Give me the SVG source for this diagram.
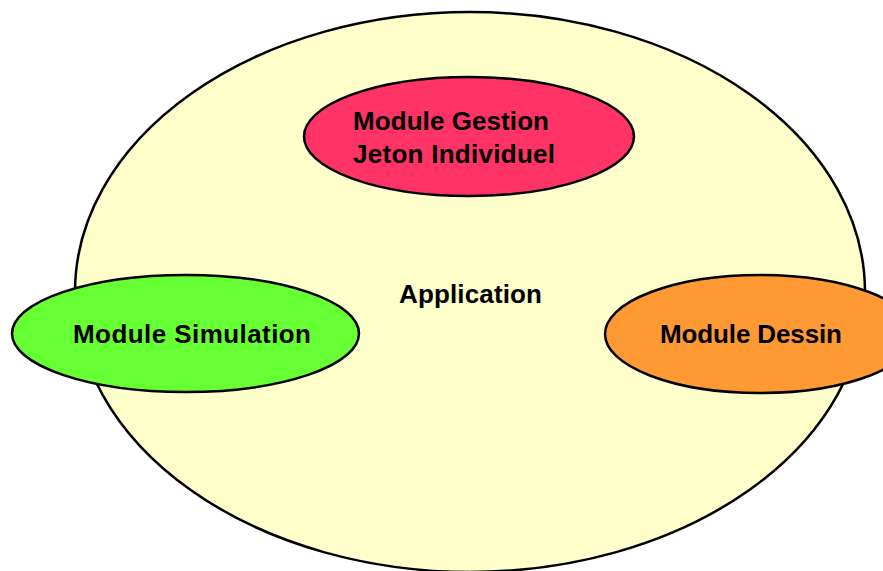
<svg xmlns="http://www.w3.org/2000/svg" width="883" height="571" viewBox="0 0 883 571">
  <style>
    .shape { stroke: #000; stroke-width: 2.5; }
    .label { font-family: "Liberation Sans", Arial, sans-serif; font-weight: bold; font-size: 26px; fill: #000; }
  </style>
  <rect width="883" height="571" fill="#fff"/>
  <g id="application">
    <ellipse class="shape" cx="470" cy="292" rx="395" ry="280" fill="#FFFFCC"/>
    <text class="label" x="399" y="303" textLength="143">Application</text>
  </g>
  <g id="module-gestion">
    <ellipse class="shape" cx="469" cy="136.5" rx="165" ry="59.5" fill="#FF3366"/>
    <text class="label" x="353" y="130" textLength="196">Module Gestion</text>
    <text class="label" x="353" y="163" textLength="202">Jeton Individuel</text>
  </g>
  <g id="module-simulation">
    <ellipse class="shape" cx="185.5" cy="333.5" rx="173.5" ry="58.5" fill="#66FF33"/>
    <text class="label" x="73" y="343" textLength="238">Module Simulation</text>
  </g>
  <g id="module-dessin">
    <ellipse class="shape" cx="760" cy="334" rx="155" ry="59" fill="#FF9933"/>
    <text class="label" x="660" y="343" textLength="182">Module Dessin</text>
  </g>
  <g id="connectors"/>
</svg>
